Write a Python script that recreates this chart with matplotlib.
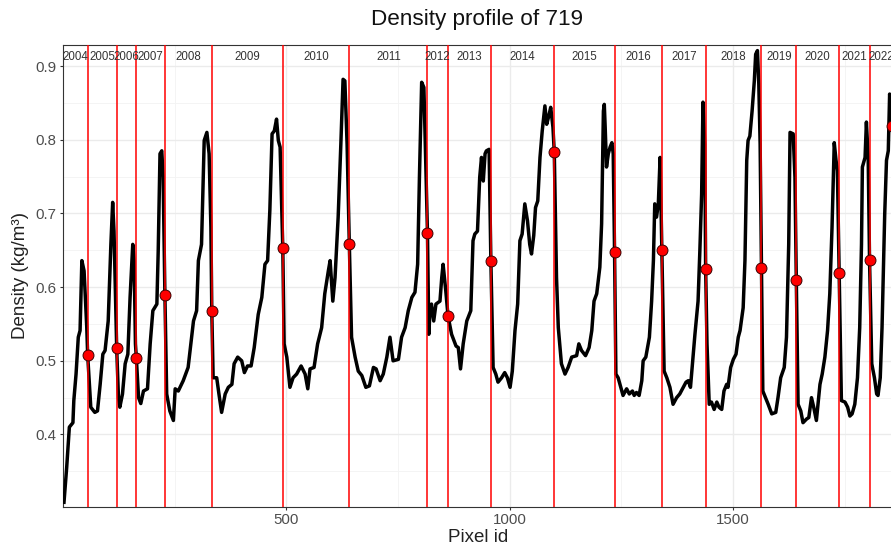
"""
Density profile of one tree-ring core, with ring boundaries and year labels.
"""

import numpy as np
import matplotlib
matplotlib.use("Agg")
from matplotlib import pyplot as plt

plt.rcParams['font.family'] = ['Liberation Sans', 'DejaVu Sans']

# density profile (pixel id, density)
pixel_id = [
    2, 8, 14, 22, 24, 29, 34, 38, 42, 47, 53, 55, 62, 71, 77, 83, 89, 94,
    101, 107, 111, 114, 120, 124, 127, 133, 139, 145, 150, 156, 159, 162,
    164, 169, 174, 180, 189, 195, 201, 210, 213, 217, 221, 224, 228, 232,
    239, 247, 251, 258, 269, 280, 292, 299, 303, 310, 316, 322, 327, 331,
    333, 336, 344, 349, 355, 363, 370, 378, 383, 391, 400, 406, 413, 421,
    428, 437, 445, 452, 458, 463, 468, 473, 478, 482, 486, 492, 495, 501,
    508, 515, 523, 533, 542, 548, 553, 562, 570, 579, 586, 594, 598, 604,
    609, 616, 622, 627, 631, 636, 641, 646, 654, 661, 669, 678, 686, 695,
    701, 710, 717, 725, 732, 739, 751, 758, 766, 773, 781, 788, 794, 798,
    803, 808, 812, 816, 819, 822, 825, 830, 835, 844, 848, 851, 857, 862,
    870, 880, 885, 890, 896, 904, 913, 918, 922, 928, 933, 937, 941, 945,
    948, 954, 958, 963, 969, 974, 982, 989, 995, 1001, 1006, 1012, 1018,
    1023, 1028, 1034, 1040, 1045, 1049, 1054, 1058, 1063, 1068, 1073, 1079,
    1083, 1088, 1092, 1097, 1100, 1105, 1109, 1116, 1124, 1131, 1139, 1150,
    1155, 1161, 1170, 1178, 1184, 1189, 1195, 1202, 1206, 1210, 1212, 1214,
    1217, 1221, 1225, 1229, 1232, 1235, 1238, 1243, 1249, 1254, 1262, 1268,
    1275, 1279, 1284, 1290, 1296, 1299, 1305, 1313, 1318, 1322, 1325, 1329,
    1333, 1337, 1341, 1346, 1352, 1359, 1366, 1374, 1381, 1389, 1395, 1400,
    1405, 1410, 1415, 1422, 1426, 1430, 1433, 1437, 1439, 1442, 1447, 1452,
    1458, 1464, 1469, 1475, 1480, 1486, 1489, 1495, 1501, 1507, 1512, 1516,
    1523, 1527, 1531, 1534, 1538, 1543, 1548, 1551, 1555, 1558, 1561, 1564,
    1567, 1573, 1579, 1587, 1596, 1601, 1607, 1615, 1620, 1625, 1628, 1635,
    1639, 1642, 1646, 1652, 1657, 1665, 1670, 1676, 1681, 1687, 1695, 1700,
    1706, 1712, 1717, 1722, 1727, 1731, 1734, 1738, 1743, 1751, 1757, 1762,
    1767, 1773, 1779, 1784, 1788, 1790, 1796, 1799, 1803, 1806, 1811, 1817,
    1822, 1825, 1830, 1834, 1840, 1844, 1848, 1851, 1857, 1866,
]
density = [
    0.308, 0.355, 0.410, 0.416, 0.446, 0.482, 0.532, 0.541, 0.636, 0.622,
    0.545, 0.508, 0.437, 0.430, 0.432, 0.468, 0.509, 0.514, 0.554, 0.658,
    0.715, 0.676, 0.517, 0.450, 0.437, 0.455, 0.496, 0.509, 0.586, 0.658,
    0.636, 0.523, 0.504, 0.450, 0.442, 0.459, 0.462, 0.523, 0.568, 0.577,
    0.649, 0.781, 0.785, 0.749, 0.589, 0.455, 0.432, 0.419, 0.462, 0.459,
    0.473, 0.491, 0.554, 0.568, 0.636, 0.658, 0.799, 0.810, 0.781, 0.681,
    0.568, 0.477, 0.477, 0.455, 0.430, 0.455, 0.464, 0.468, 0.496, 0.505,
    0.500, 0.484, 0.493, 0.493, 0.518, 0.563, 0.586, 0.631, 0.636, 0.704,
    0.808, 0.812, 0.828, 0.799, 0.790, 0.653, 0.523, 0.505, 0.464, 0.477,
    0.482, 0.493, 0.482, 0.462, 0.489, 0.491, 0.523, 0.545, 0.591, 0.622,
    0.636, 0.581, 0.613, 0.695, 0.794, 0.882, 0.880, 0.794, 0.658, 0.532,
    0.505, 0.486, 0.480, 0.464, 0.466, 0.491, 0.489, 0.473, 0.482, 0.505,
    0.532, 0.500, 0.502, 0.532, 0.545, 0.568, 0.586, 0.593, 0.631, 0.749,
    0.878, 0.871, 0.772, 0.674, 0.536, 0.572, 0.577, 0.554, 0.577, 0.581,
    0.613, 0.631, 0.595, 0.561, 0.536, 0.520, 0.518, 0.489, 0.523, 0.554,
    0.568, 0.663, 0.672, 0.676, 0.749, 0.776, 0.744, 0.781, 0.785, 0.787,
    0.636, 0.491, 0.482, 0.471, 0.477, 0.484, 0.477, 0.464, 0.486, 0.541,
    0.577, 0.663, 0.672, 0.713, 0.690, 0.658, 0.645, 0.670, 0.708, 0.717,
    0.776, 0.812, 0.846, 0.821, 0.833, 0.844, 0.817, 0.783, 0.613, 0.545,
    0.496, 0.482, 0.491, 0.505, 0.507, 0.523, 0.514, 0.507, 0.518, 0.541,
    0.581, 0.591, 0.627, 0.686, 0.839, 0.848, 0.817, 0.763, 0.781, 0.790,
    0.796, 0.781, 0.647, 0.482, 0.477, 0.464, 0.453, 0.462, 0.455, 0.459,
    0.453, 0.457, 0.453, 0.473, 0.500, 0.505, 0.532, 0.581, 0.636, 0.713,
    0.695, 0.713, 0.776, 0.650, 0.486, 0.477, 0.464, 0.441, 0.450, 0.455,
    0.464, 0.471, 0.473, 0.464, 0.500, 0.536, 0.581, 0.649, 0.726, 0.851,
    0.794, 0.624, 0.523, 0.441, 0.444, 0.434, 0.444, 0.437, 0.434, 0.459,
    0.468, 0.464, 0.491, 0.502, 0.509, 0.532, 0.541, 0.572, 0.636, 0.772,
    0.799, 0.805, 0.839, 0.880, 0.916, 0.921, 0.876, 0.794, 0.626, 0.459,
    0.450, 0.441, 0.428, 0.430, 0.450, 0.477, 0.491, 0.532, 0.658, 0.810,
    0.808, 0.749, 0.610, 0.441, 0.432, 0.416, 0.421, 0.423, 0.450, 0.437,
    0.419, 0.468, 0.482, 0.505, 0.541, 0.591, 0.681, 0.796, 0.772, 0.758,
    0.619, 0.446, 0.444, 0.437, 0.425, 0.428, 0.441, 0.477, 0.545, 0.658,
    0.763, 0.776, 0.824, 0.776, 0.637, 0.496, 0.477, 0.455, 0.453, 0.477,
    0.545, 0.699, 0.772, 0.785, 0.862, 0.819, 0.700,
]

# ring boundaries (pixel id) and the density at each boundary
ring_end = [55, 120, 164, 228, 333, 492, 641, 816, 862, 958, 1100, 1235,
            1341, 1439, 1564, 1642, 1738, 1806, 1857]
ring_end_density = [0.508, 0.517, 0.504, 0.589, 0.568, 0.653, 0.658, 0.674,
                    0.561, 0.636, 0.783, 0.647, 0.650, 0.624, 0.626, 0.610,
                    0.619, 0.637, 0.819]
years = list(range(2004, 2023))

x_max = 1872
y_min, y_max = 0.302, 0.929

fig = plt.figure(figsize=(8.91, 5.49), dpi=100)
ax = fig.add_axes([63.1 / 891, 42.3 / 549, (899 - 63.1) / 891, 462 / 549])

# ggplot-like bw theme
ax.set_xlim(0, x_max)
ax.set_ylim(y_min, y_max)
ax.set_xticks([500, 1000, 1500])
ax.set_xticks([250, 750, 1250, 1750], minor=True)
ax.set_yticks(np.arange(0.4, 0.91, 0.1))
ax.set_yticks(np.arange(0.35, 0.91, 0.1), minor=True)
ax.set_yticklabels([f"{v:.1f}" for v in np.arange(0.4, 0.91, 0.1)])
ax.grid(True, which='major', color='#EBEBEB', linewidth=1.0, zorder=0)
ax.grid(True, which='minor', color='#F3F3F3', linewidth=0.6, zorder=0)
ax.set_axisbelow(True)
ax.tick_params(which='major', length=2.2, width=0.8, color='#333333',
               labelsize=10.8, labelcolor='#4D4D4D', pad=2.5)
ax.tick_params(which='minor', length=0)
for spine in ax.spines.values():
    spine.set_color('#333333')
    spine.set_linewidth(0.8)

ax.plot(pixel_id, density, color='black', linewidth=2.5, zorder=3,
        solid_joinstyle='round')

for b in ring_end:
    ax.axvline(b, color='red', linewidth=1.1, zorder=4)

ax.scatter(ring_end, ring_end_density, s=62, color='red',
           edgecolors='#3a0000', linewidths=0.7, zorder=5)

# year labels centred inside each ring
starts = [0] + ring_end[:-1]
for year, a, b in zip(years, starts, ring_end):
    ax.text((a + b) / 2, 0.912, str(year), ha='center', va='center',
            fontsize=8.3, color='#333333', zorder=6)

ax.set_xlabel("Pixel id", fontsize=13.5, color='#222222')
ax.set_ylabel("Density (kg/m³)", fontsize=13.5, color='#222222')
ax.xaxis.set_label_coords((478.5 - 63.1) / (899 - 63.1), -(529 - 506.7) / 462)
ax.yaxis.set_label_coords(-(63.1 - 29) / (899 - 63.1), 0.5)

fig.text(477 / 891, 1 - 20 / 549, "Density profile of 719", ha='center',
         va='center', fontsize=16.2, color='#111111')

fig.savefig("out.png", dpi=100)
